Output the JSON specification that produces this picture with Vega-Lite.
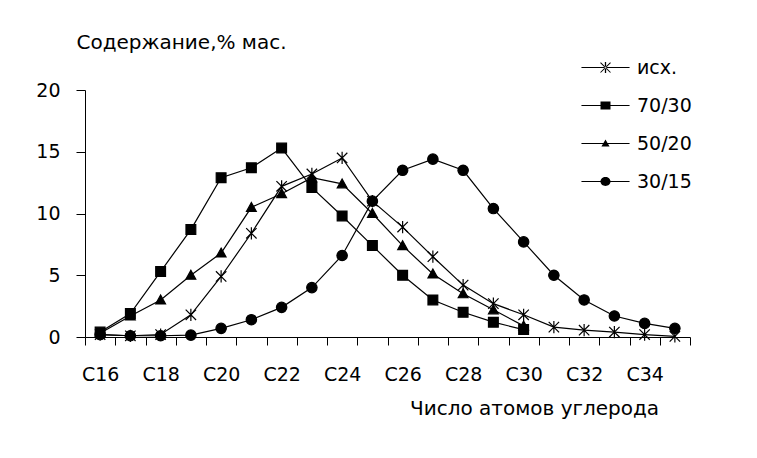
{
  "$schema": "https://vega.github.io/schema/vega-lite/v6.json",
  "autosize": "none",
  "width": 605,
  "height": 247,
  "padding": {"left": 85, "top": 90, "right": 67, "bottom": 121},
  "background": "white",
  "config": {
    "view": {"stroke": null},
    "font": "DejaVu Sans",
    "axis": {"domainColor": "black", "tickColor": "black", "labelColor": "black", "titleColor": "black", "grid": false, "labelFont": "DejaVu Sans", "titleFont": "DejaVu Sans", "labelFontSize": 19, "titleFontSize": 20, "titleFontWeight": "normal", "domainWidth": 1, "tickWidth": 1}
  },
  "data": {"values": [
    {"c": "C16", "s": "исх.", "v": 0.2}, {"c": "C17", "s": "исх.", "v": 0.1}, {"c": "C18", "s": "исх.", "v": 0.2}, {"c": "C19", "s": "исх.", "v": 1.8}, {"c": "C20", "s": "исх.", "v": 4.9}, {"c": "C21", "s": "исх.", "v": 8.4}, {"c": "C22", "s": "исх.", "v": 12.2}, {"c": "C23", "s": "исх.", "v": 13.2}, {"c": "C24", "s": "исх.", "v": 14.5}, {"c": "C25", "s": "исх.", "v": 11.0}, {"c": "C26", "s": "исх.", "v": 8.9}, {"c": "C27", "s": "исх.", "v": 6.5}, {"c": "C28", "s": "исх.", "v": 4.2}, {"c": "C29", "s": "исх.", "v": 2.7}, {"c": "C30", "s": "исх.", "v": 1.8}, {"c": "C31", "s": "исх.", "v": 0.8}, {"c": "C32", "s": "исх.", "v": 0.55}, {"c": "C33", "s": "исх.", "v": 0.4}, {"c": "C34", "s": "исх.", "v": 0.2}, {"c": "C35", "s": "исх.", "v": 0.05},
    {"c": "C16", "s": "70/30", "v": 0.4}, {"c": "C17", "s": "70/30", "v": 1.9}, {"c": "C18", "s": "70/30", "v": 5.3}, {"c": "C19", "s": "70/30", "v": 8.7}, {"c": "C20", "s": "70/30", "v": 12.9}, {"c": "C21", "s": "70/30", "v": 13.7}, {"c": "C22", "s": "70/30", "v": 15.3}, {"c": "C23", "s": "70/30", "v": 12.1}, {"c": "C24", "s": "70/30", "v": 9.8}, {"c": "C25", "s": "70/30", "v": 7.4}, {"c": "C26", "s": "70/30", "v": 5.0}, {"c": "C27", "s": "70/30", "v": 3.0}, {"c": "C28", "s": "70/30", "v": 2.0}, {"c": "C29", "s": "70/30", "v": 1.2}, {"c": "C30", "s": "70/30", "v": 0.6},
    {"c": "C16", "s": "50/20", "v": 0.3}, {"c": "C17", "s": "50/20", "v": 1.7}, {"c": "C18", "s": "50/20", "v": 3.0}, {"c": "C19", "s": "50/20", "v": 5.0}, {"c": "C20", "s": "50/20", "v": 6.8}, {"c": "C21", "s": "50/20", "v": 10.5}, {"c": "C22", "s": "50/20", "v": 11.6}, {"c": "C23", "s": "50/20", "v": 12.9}, {"c": "C24", "s": "50/20", "v": 12.4}, {"c": "C25", "s": "50/20", "v": 10.0}, {"c": "C26", "s": "50/20", "v": 7.4}, {"c": "C27", "s": "50/20", "v": 5.1}, {"c": "C28", "s": "50/20", "v": 3.5}, {"c": "C29", "s": "50/20", "v": 2.2}, {"c": "C30", "s": "50/20", "v": 0.9},
    {"c": "C16", "s": "30/15", "v": 0.2}, {"c": "C17", "s": "30/15", "v": 0.1}, {"c": "C18", "s": "30/15", "v": 0.1}, {"c": "C19", "s": "30/15", "v": 0.15}, {"c": "C20", "s": "30/15", "v": 0.7}, {"c": "C21", "s": "30/15", "v": 1.4}, {"c": "C22", "s": "30/15", "v": 2.4}, {"c": "C23", "s": "30/15", "v": 4.0}, {"c": "C24", "s": "30/15", "v": 6.6}, {"c": "C25", "s": "30/15", "v": 11.0}, {"c": "C26", "s": "30/15", "v": 13.5}, {"c": "C27", "s": "30/15", "v": 14.4}, {"c": "C28", "s": "30/15", "v": 13.5}, {"c": "C29", "s": "30/15", "v": 10.4}, {"c": "C30", "s": "30/15", "v": 7.7}, {"c": "C31", "s": "30/15", "v": 5.0}, {"c": "C32", "s": "30/15", "v": 3.0}, {"c": "C33", "s": "30/15", "v": 1.7}, {"c": "C34", "s": "30/15", "v": 1.1}, {"c": "C35", "s": "30/15", "v": 0.7}
  ]},
  "encoding": {
    "x": {
      "field": "c", "type": "ordinal",
      "scale": {"type": "band", "paddingInner": 0, "paddingOuter": 0},
      "axis": {
        "title": "Число атомов углерода",
        "labelAngle": 0, "tickBand": "extent", "tickSize": 8,
        "labelPadding": 20, "labelDx": -11, "labelBaseline": "top",
        "labelExpr": "toNumber(substring(datum.value, 1)) % 2 == 0 ? datum.value : ''",
        "titleAlign": "center", "titleAnchor": null, "titleX": 449, "titleY": 77, "titleBaseline": "alphabetic"
      }
    },
    "y": {
      "field": "v", "type": "quantitative",
      "scale": {"domain": [0, 20], "nice": false, "zero": true},
      "axis": {
        "title": "Содержание,% мас.", "values": [0, 5, 10, 15, 20],
        "tickSize": 9, "labelPadding": 16,
        "titleAngle": 0, "titleAlign": "center", "titleAnchor": null, "titleX": 96, "titleY": -42, "titleBaseline": "alphabetic"
      }
    }
  },
  "layer": [
    {
      "mark": {"type": "line", "color": "black", "strokeWidth": 1.2},
      "encoding": {"detail": {"field": "s"}}
    },
    {
      "mark": {"type": "point", "filled": true, "color": "black", "stroke": "black", "strokeWidth": 1.2, "opacity": 1, "size": 150},
      "encoding": {
        "shape": {
          "field": "s", "type": "nominal",
          "scale": {
            "domain": ["исх.", "70/30", "50/20", "30/15"],
            "range": [
              "M-0.85,-0.85L0.85,0.85M-0.85,0.85L0.85,-0.85M0,-1V1",
              "M-0.8,-0.8H0.8V0.8H-0.8Z",
              "M0,-0.8L0.8,0.65H-0.8Z",
              "M-0.85,0A0.85,0.85 0 1,1 0.85,0A0.85,0.85 0 1,1 -0.85,0Z"
            ]
          },
          "legend": null
        }
      }
    },
    {
      "mark": {"type": "point", "filled": true, "color": "black", "opacity": 0, "size": 10},
      "encoding": {
        "shape": {
          "field": "s", "type": "nominal",
          "scale": {
            "domain": ["исх.", "70/30", "50/20", "30/15"],
            "range": [
              "M-1.3,-0.03H1.3V0.03H-1.3ZM-0.035,-0.3H0.035V0.3H-0.035ZM-0.29,-0.25L0.25,0.29L0.29,0.25L-0.25,-0.29ZM-0.29,0.25L-0.25,0.29L0.29,-0.25L0.25,-0.29Z",
              "M-1.3,-0.03H1.3V0.03H-1.3ZM-0.27,-0.22H0.27V0.22H-0.27Z",
              "M-1.3,-0.03H1.3V0.03H-1.3ZM0,-0.22L0.22,0.16H-0.22Z",
              "M-1.3,-0.03H1.3V0.03H-1.3ZM-0.27,0A0.27,0.24 0 1,1 0.27,0A0.27,0.24 0 1,1 -0.27,0Z"
            ]
          },
          "legend": {
            "title": null, "orient": "none", "legendX": 502, "legendY": -41,
            "padding": 0, "rowPadding": 9, "labelOffset": 13,
            "labelFont": "DejaVu Sans", "labelFontSize": 19, "labelColor": "black",
            "symbolSize": 1369, "symbolStrokeWidth": 0, "symbolFillColor": "black", "symbolOpacity": 1
          }
        }
      }
    }
  ],
  "resolve": {"scale": {"shape": "independent"}, "legend": {"shape": "independent"}}
}
